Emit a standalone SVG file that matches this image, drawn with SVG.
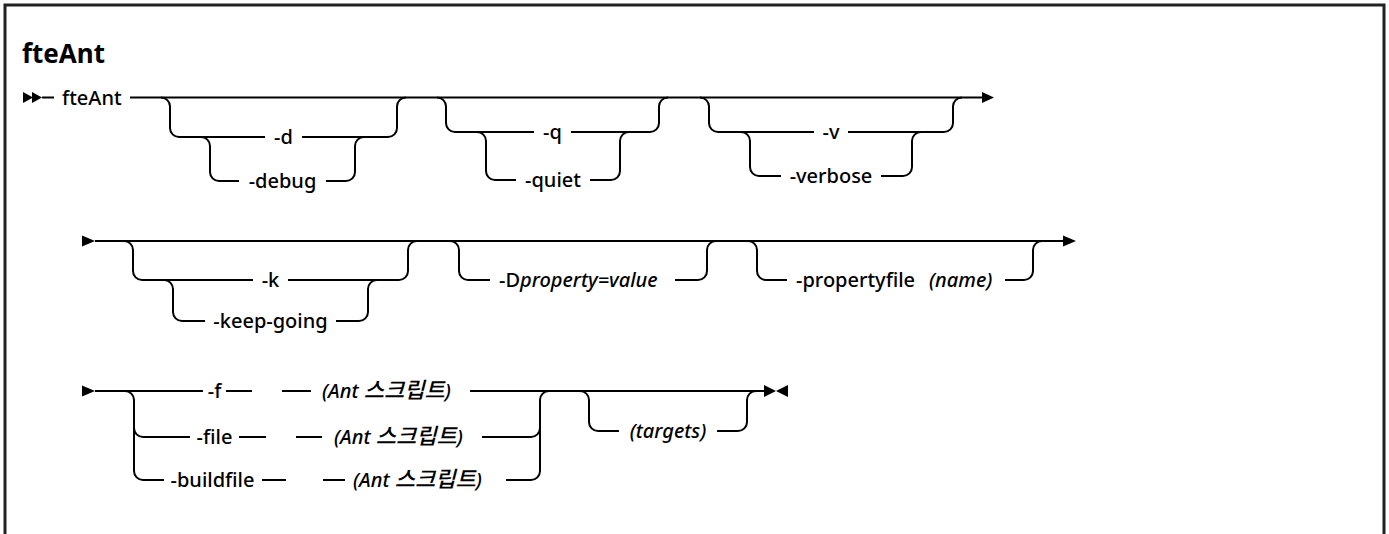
<svg xmlns="http://www.w3.org/2000/svg" width="1389" height="534" viewBox="0 0 1389 534">
<style>
.t{font-family:"Noto Sans","Noto Sans CJK KR",sans-serif;font-size:20px;font-weight:500;fill:#000}
.m{text-anchor:middle}
.i{font-style:italic}
.k{font-family:"Noto Sans CJK KR",sans-serif;font-size:22px}
.title{font-family:"Noto Sans",sans-serif;font-size:26px;font-weight:bold;fill:#000}
.ln{fill:none;stroke:#000;stroke-width:2}
.ar{fill:#000}
</style>
<rect width="1389" height="534" fill="#fff"/>
<path d="M5,534 V5 H1384 V534" fill="none" stroke="#222" stroke-width="3"/>
<g id="title"><text class="title" x="22" y="63">fteAnt</text></g>
<g id="connectors">
<path class="ln" d="M42,97.5 H54 M130,97.5 H983"/>
<path class="ln" d="M161,97.5 A9,9 0 0 1 170,106.5 V128 A9,9 0 0 0 179,137 H265 M302,137 H388 A9,9 0 0 0 397,128 V106.5 A9,9 0 0 1 406,97.5"/>
<path class="ln" d="M201,137 A9,9 0 0 1 210,146 V172 A9,9 0 0 0 219,181 H239 M326,181 H346 A9,9 0 0 0 355,172 V146 A9,9 0 0 1 364,137"/>
<path class="ln" d="M437,97.5 A9,9 0 0 1 446,106.5 V123 A9,9 0 0 0 455,132 H534 M571,132 H650 A9,9 0 0 0 659,123 V106.5 A9,9 0 0 1 668,97.5"/>
<path class="ln" d="M477,132 A9,9 0 0 1 486,141 V171 A9,9 0 0 0 495,180 H516 M590,180 H611 A9,9 0 0 0 620,171 V141 A9,9 0 0 1 629,132"/>
<path class="ln" d="M700,97.5 A9,9 0 0 1 709,106.5 V123 A9,9 0 0 0 718,132 H814 M848,132 H944 A9,9 0 0 0 953,123 V106.5 A9,9 0 0 1 962,97.5"/>
<path class="ln" d="M741,132 A9,9 0 0 1 750,141 V167 A9,9 0 0 0 759,176 H781 M881,176 H903 A9,9 0 0 0 912,167 V141 A9,9 0 0 1 921,132"/>
<path class="ln" d="M95,241 H1064"/>
<path class="ln" d="M124,241 A9,9 0 0 1 133,250 V271 A9,9 0 0 0 142,280 H253 M288,280 H399 A9,9 0 0 0 408,271 V250 A9,9 0 0 1 417,241"/>
<path class="ln" d="M164,280 A9,9 0 0 1 173,289 V312 A9,9 0 0 0 182,321 H205 M336,321 H359 A9,9 0 0 0 368,312 V289 A9,9 0 0 1 377,280"/>
<path class="ln" d="M450,241 A9,9 0 0 1 459,250 V271 A9,9 0 0 0 468,280 H490 M675,280 H698 A9,9 0 0 0 707,271 V250 A9,9 0 0 1 716,241"/>
<path class="ln" d="M748,241 A9,9 0 0 1 757,250 V271 A9,9 0 0 0 766,280 H787 M1005,280 H1024 A9,9 0 0 0 1033,271 V250 A9,9 0 0 1 1042,241"/>
<path class="ln" d="M95,391 H203 M226,391 H252 M282,391 H311 M470,391 H765"/>
<path class="ln" d="M125,391 A9,9 0 0 1 134,400 V471 A9,9 0 0 0 143,480 H164 M134,428 A9,9 0 0 0 143,437 H190"/>
<path class="ln" d="M239,437 H266 M296,437 H322 M482,437 H531 A9,9 0 0 0 540,428"/>
<path class="ln" d="M262,480 H286 M323,480 H345 M506,480 H531 A9,9 0 0 0 540,471 V400 A9,9 0 0 1 549,391"/>
<path class="ln" d="M580,391 A9,9 0 0 1 589,400 V422 A9,9 0 0 0 598,431 H619 M717,431 H738 A9,9 0 0 0 747,422 V400 A9,9 0 0 1 756,391"/>
<polygon class="ar" points="23,92 33,97.5 23,103"/>
<polygon class="ar" points="32,92 42,97.5 32,103"/>
<polygon class="ar" points="982,92 994,97.5 982,103"/>
<polygon class="ar" points="82,235.5 95,241 82,246.5"/>
<polygon class="ar" points="1063,235.5 1076,241 1063,246.5"/>
<polygon class="ar" points="82,385.5 95,391 82,396.5"/>
<polygon class="ar" points="764,385 776,391 764,397"/>
<polygon class="ar" points="788,385 776,391 788,397"/>
</g>
<g id="n-fteant"><text class="t" x="62" y="104.5">fteAnt</text></g>
<g id="n-d"><text class="t m" x="283.5" y="144">-d</text></g>
<g id="n-debug"><text class="t m" x="282.5" y="188">-debug</text></g>
<g id="n-q"><text class="t m" x="552.5" y="139">-q</text></g>
<g id="n-quiet"><text class="t m" x="553" y="187">-quiet</text></g>
<g id="n-v"><text class="t m" x="831" y="139">-v</text></g>
<g id="n-verbose"><text class="t m" x="831" y="183">-verbose</text></g>
<g id="n-k"><text class="t m" x="270.5" y="287">-k</text></g>
<g id="n-keepgoing"><text class="t m" x="270.5" y="328">-keep-going</text></g>
<g id="n-dprop"><text class="t" x="499" y="287">-D<tspan class="i">property=value</tspan></text></g>
<g id="n-propfile"><text class="t" x="796" y="287">-propertyfile<tspan class="i" x="929">(name)</tspan></text></g>
<g id="n-f"><text class="t m" x="214.5" y="398">-f</text></g>
<g id="n-f-script"><text class="t i" x="322" y="398">(Ant <tspan class="k">스크립트</tspan>)</text></g>
<g id="n-file"><text class="t m" x="214.5" y="444">-file</text></g>
<g id="n-file-script"><text class="t i" x="334" y="444">(Ant <tspan class="k">스크립트</tspan>)</text></g>
<g id="n-buildfile"><text class="t m" x="212.5" y="487">-buildfile</text></g>
<g id="n-buildfile-script"><text class="t i" x="353" y="487">(Ant <tspan class="k">스크립트</tspan>)</text></g>
<g id="n-targets"><text class="t m i" x="668" y="438">(targets)</text></g>
</svg>
